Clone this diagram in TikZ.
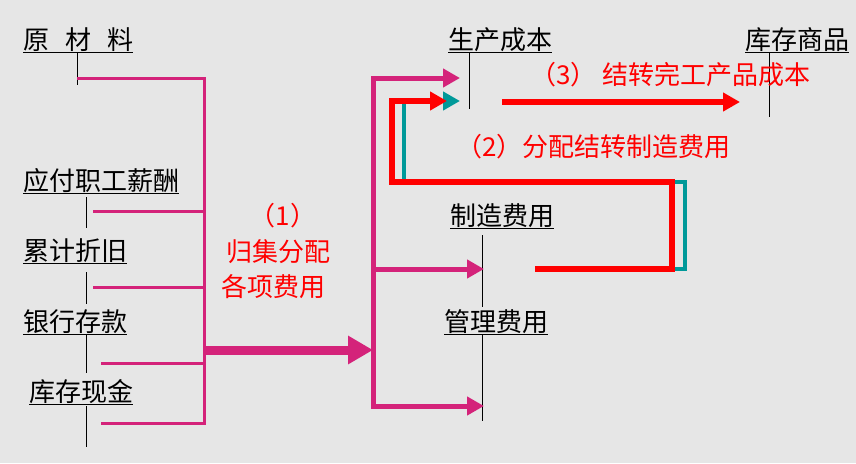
\documentclass[tikz,border=0pt]{standalone}
\usepackage{fontspec}
\newfontfamily\cjk{Noto Sans CJK SC}
\usetikzlibrary{arrows.meta}
\definecolor{bggray}{HTML}{E6E6E6}
\definecolor{magc}{HTML}{D4237A}
\definecolor{tealc}{HTML}{009999}
\definecolor{redc}{HTML}{FF0000}

\begin{document}
\begin{tikzpicture}[x=1pt,y=-1pt,
  acct/.style={inner sep=0pt,anchor=base west,font=\cjk\fontsize{26}{26}\selectfont},
  lbl/.style={inner sep=0pt,text=redc,font=\cjk\fontsize{26}{26}\selectfont},
  tline/.style={line width=1pt,black},
  magl/.style={draw=magc,line width=3pt,line join=miter},
  magr/.style={draw=magc,line width=5pt,line join=miter},
  redl/.style={draw=redc,line width=5.5pt,line join=miter},
  teall/.style={draw=tealc,line width=4.5pt,line join=miter},
  tri/.tip={Triangle[length=17pt,width=18pt]}]
\fill[bggray] (0,0) rectangle (856,463);
% accounts on the left
\node[acct] (ycl) at (23,49.5) {原\hspace{16pt}材\hspace{16pt}料};
\foreach \n/\t/\xx/\yy in {gz/应付职工薪酬/23/190.5,zj/累计折旧/23/260.5,ck/银行存款/23/331.5,xj/库存现金/29/401.5}
  \node[acct] (\n) at (\xx,\yy) {\t};
% accounts on the right
\node[acct] (sc) at (448,49.5) {生产成本};
\node[acct] (kc) at (745,49.5) {库存商品};
\node[acct] (zz) at (450,225.5) {制造费用};
\node[acct] (gl) at (444,331.5) {管理费用};
\foreach \n in {ycl,gz,zj,ck,xj,sc,kc,zz,gl}
  \draw[tline] ([yshift=-2.5pt]\n.base west) -- ([yshift=-2.5pt]\n.base east);
% T lines
\draw[tline] (77,53) -- (77,85);
\foreach \ya/\yb in {197/228,272/304,334/373,406/447}
  \draw[tline] (86,\ya) -- (86,\yb);
\draw[tline] (469,52) -- (469,109);
\draw[tline] (769,52) -- (769,117);
\draw[tline] (482,235) -- (482,307);
\draw[tline] (482,334) -- (482,421);
% labels
\node[lbl] (n1) at (283,216) {（1）};
\node[lbl] (n1a) at (278,252) {归集分配};
\node[lbl] (n1b) at (273,287) {各项费用};
\node[lbl,anchor=east] (n3) at (811,75) {（3） 结转完工产品成本};
\node[lbl,anchor=east] (n2) at (731,147) {（2）分配结转制造费用};
% (1) collect
\coordinate (jl) at (204,350);
\coordinate (jr) at (373,350);
\draw[magl] (77,78) -- (204,78) -- (204,424.5);
\foreach \yy/\xs in {211/93,287/93,363/101,423/101}
  \draw[magl] (\xs,\yy) -- (204,\yy);
\draw[draw=magc,line width=9pt,-{Triangle[length=25pt,width=27pt]}] (jl) -- (jr);
\coordinate (sc in) at (460,78);
\coordinate (zz in) at (484,269);
\coordinate (gl in) at (484,406);
\draw[magr,{tri}-{tri}] (sc in) -- (373,78) -- (373,406) -- (gl in);
\draw[magr,-{tri}] (373,269) -- (zz in);
% (2) allocate
\coordinate (zz out) at (535,269);
\coordinate (sc in2) at (447,101);
\draw[teall,-{tri}] (zz out) -- (685,269) -- (685,182) -- (404,182) -- (404,101) -- ([xshift=13pt]sc in2);
\draw[redl,-{tri}] (zz out) -- (672,269) -- (672,182) -- (392,182) -- (392,101) -- (sc in2);
% (3) transfer
\coordinate (sc out) at (502,102);
\coordinate (kc in) at (740,102);
\draw[redl,-{tri}] (sc out) -- (kc in);
\end{tikzpicture}
\end{document}
